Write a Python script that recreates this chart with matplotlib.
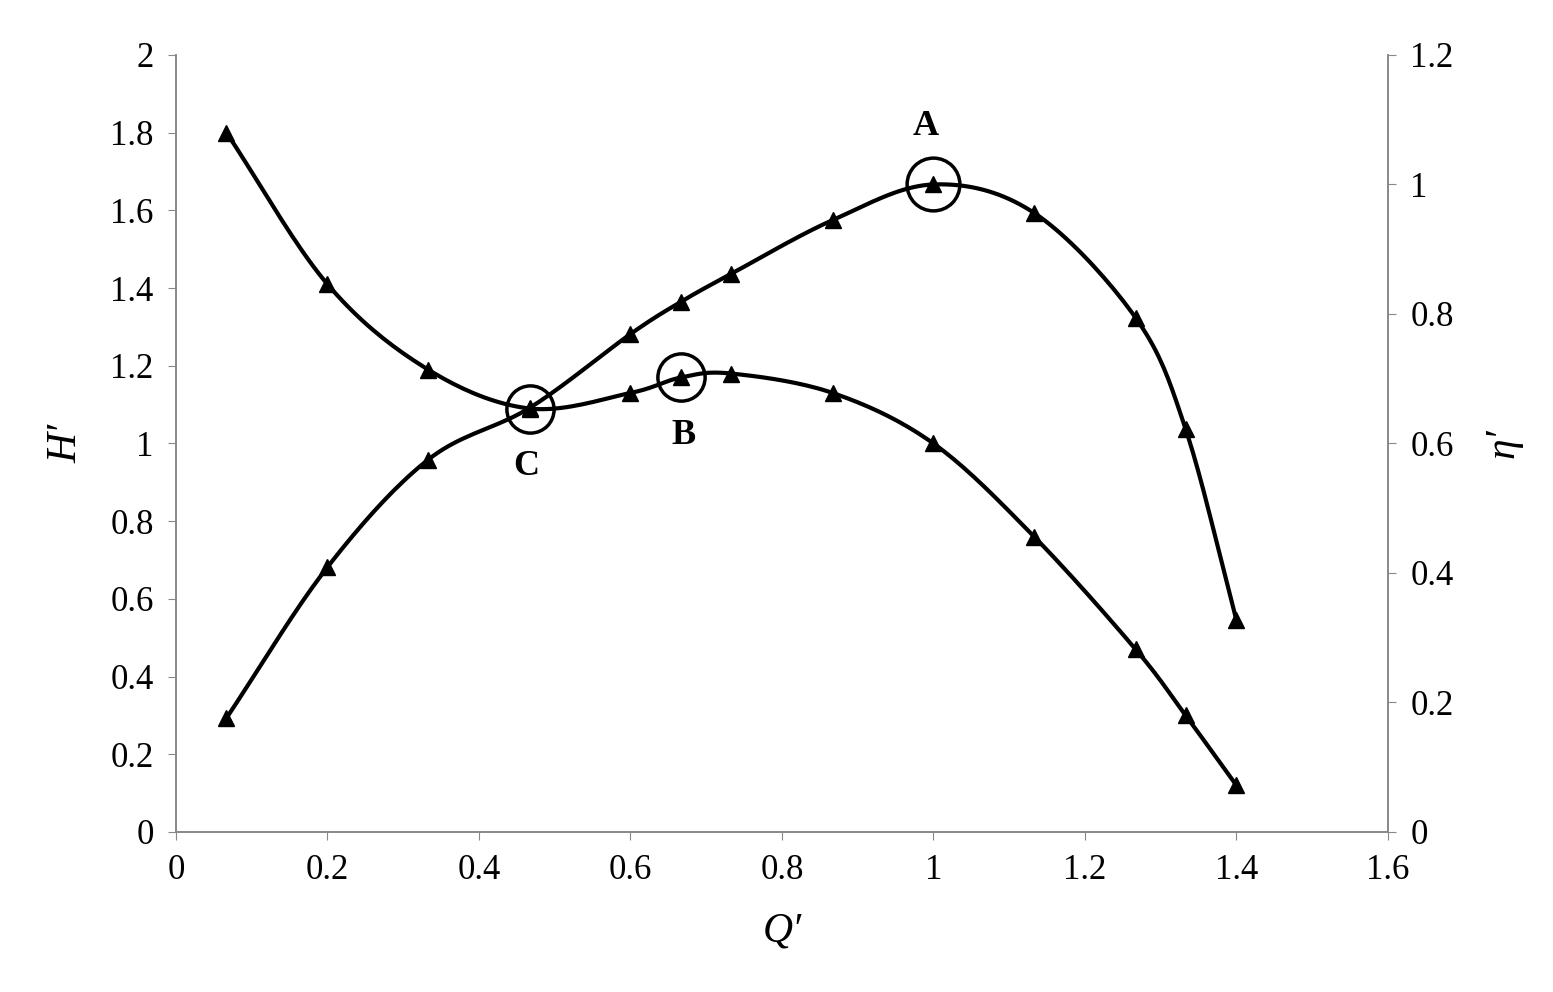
import numpy as np
import matplotlib.pyplot as plt

plt.rcParams['font.family'] = ['Liberation Serif', 'DejaVu Serif']

q = [0.0667, 0.2, 0.333, 0.467, 0.6, 0.667, 0.733, 0.867, 1.0, 1.133, 1.267, 1.333, 1.4]
head = [1.80, 1.41, 1.19, 1.09, 1.13, 1.17, 1.18, 1.13, 1.00, 0.76, 0.47, 0.30, 0.12]
eff = [0.176, 0.409, 0.575, 0.655, 0.769, 0.819, 0.862, 0.945, 1.0, 0.956, 0.794, 0.622, 0.327]


def smooth(x, y, n=20):
    # Catmull-Rom curve through the points, like Excel's smoothed line
    x = np.asarray(x, float)
    y = np.asarray(y, float)
    px = np.concatenate([[2 * x[0] - x[1]], x, [2 * x[-1] - x[-2]]])
    py = np.concatenate([[2 * y[0] - y[1]], y, [2 * y[-1] - y[-2]]])
    xs, ys = [], []
    t = np.linspace(0, 1, n, endpoint=False)
    for i in range(1, len(px) - 2):
        for p, out in ((px, xs), (py, ys)):
            p0, p1, p2, p3 = p[i - 1], p[i], p[i + 1], p[i + 2]
            out.extend(0.5 * (2 * p1 + (-p0 + p2) * t + (2 * p0 - 5 * p1 + 4 * p2 - p3) * t ** 2
                              + (-p0 + 3 * p1 - 3 * p2 + p3) * t ** 3))
    xs.append(x[-1])
    ys.append(y[-1])
    return xs, ys


fig = plt.figure(figsize=(15.53, 9.92), dpi=100)
ax = fig.add_axes([0.1133, 0.1613, 0.7804, 0.7833])
ax2 = ax.twinx()

ax.plot(*smooth(q, head), color='black', lw=3)
ax.plot(q, head, '^', color='black', ms=11)
ax2.plot(*smooth(q, eff), color='black', lw=3)
ax2.plot(q, eff, '^', color='black', ms=11)

# circled points
ax.plot([0.667, 0.467], [1.17, 1.09], 'o', mfc='none', mec='black', ms=34, mew=2.5)
ax2.plot([1.0], [1.0], 'o', mfc='none', mec='black', ms=38, mew=2.5)
ax.text(0.67, 1.02, 'B', fontsize=26, fontweight='bold', ha='center', va='center')
ax.text(0.462, 0.94, 'C', fontsize=26, fontweight='bold', ha='center', va='center')
ax2.text(0.99, 1.09, 'A', fontsize=26, fontweight='bold', ha='center', va='center')

ax.set_xlim(0, 1.6)
ax.set_ylim(0, 2)
ax2.set_ylim(0, 1.2)
ax.set_xticks(np.arange(0, 1.61, 0.2))
ax.set_xticklabels(['0', '0.2', '0.4', '0.6', '0.8', '1', '1.2', '1.4', '1.6'])
ax.set_yticks(np.arange(0, 2.01, 0.2))
ax.set_yticklabels(['0', '0.2', '0.4', '0.6', '0.8', '1', '1.2', '1.4', '1.6', '1.8', '2'])
ax2.set_yticks(np.arange(0, 1.21, 0.2))
ax2.set_yticklabels(['0', '0.2', '0.4', '0.6', '0.8', '1', '1.2'])

for a in (ax, ax2):
    a.spines['top'].set_visible(False)
    for s in a.spines.values():
        s.set_color('#888888')
        s.set_linewidth(1.2)
    a.tick_params(labelsize=25, length=6, color='#888888', pad=10)

ax.set_xlabel("Q′", fontsize=30, style='italic', labelpad=18)
ax.set_ylabel("H′", fontsize=30, style='italic', labelpad=18)
ax2.set_ylabel("η′", fontsize=30, style='italic', rotation=90, labelpad=22)

fig.savefig('out.png', dpi=100)
